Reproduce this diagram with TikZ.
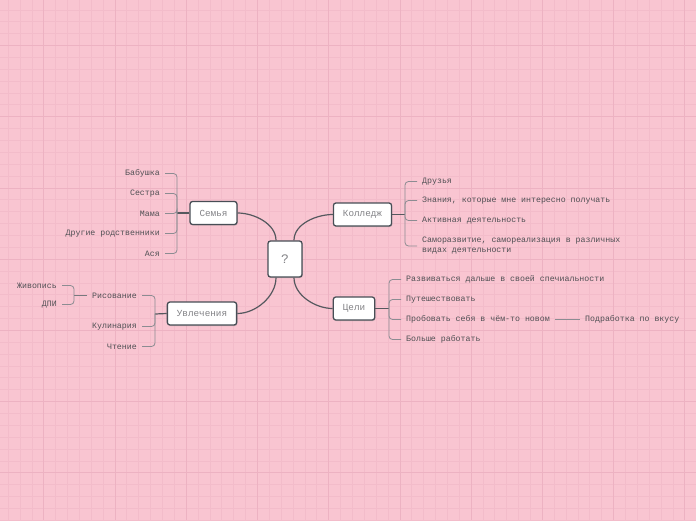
\documentclass[tikz,border=0pt]{standalone}
\usepackage{fontspec}
\setmainfont{Liberation Mono}
\usepackage{tikz}
\usetikzlibrary{positioning, shadows}
\usepackage{xcolor}
\definecolor{sheetpink}{RGB}{249, 197, 209}
\definecolor{gridminor}{RGB}{243, 188, 202}
\definecolor{gridmajor}{RGB}{237, 178, 194}
\definecolor{boxedge}{RGB}{72, 78, 86}
\definecolor{boxtext}{RGB}{130, 130, 134}
\definecolor{leaftext}{RGB}{80, 80, 84}
\definecolor{branchgray}{RGB}{85, 88, 94}
\definecolor{twiggray}{RGB}{140, 140, 146}

\tikzset{
    topicbox/.style={draw=boxedge, fill=white, rounded corners=2.5pt, line width=1.3pt,
        text=boxtext, font=\fontsize{9.3}{11}\selectfont, inner xsep=9.5pt,
        minimum height=23pt, drop shadow={shadow xshift=0.8pt, shadow yshift=-1pt, opacity=0.35}},
    rootbox/.style={topicbox, minimum width=34pt, minimum height=36pt, font=\fontsize{13}{15}\selectfont},
    leaf/.style={text=leaftext, font=\fontsize{8.25}{10}\selectfont, inner xsep=5pt, inner ysep=1pt},
    leafl/.style={leaf, anchor=east},
    leafr/.style={leaf, anchor=west},
    branch/.style={draw=branchgray, line width=1.2pt},
    twig/.style={draw=twiggray, line width=0.8pt, rounded corners=3.5pt}
}

\begin{document}
\begin{tikzpicture}[x=1pt, y=-1pt]
    % sheet and grid
    \useasboundingbox (0,0) rectangle (696,520);
    \fill[sheetpink] (0,0) rectangle (696,520);
    \foreach \i in {0,...,58} {\draw[gridminor, line width=1pt] ({floor(8.3+11.87*\i)+0.5},0) -- ++(0,520);}
    \foreach \i in {0,...,43} {\draw[gridminor, line width=1pt] (0,{floor(10+11.87*\i)+0.5}) -- ++(696,0);}
    \foreach \i in {0,...,9} {\draw[gridmajor, line width=1pt] ({floor(8.3+11.87*(3+6*\i))+0.5},0) -- ++(0,520);}
    \foreach \i in {0,...,6} {\draw[gridmajor, line width=1pt] (0,{floor(10+11.87*(3+6*\i))+0.5}) -- ++(696,0);}

    % topics
    \node[rootbox] (root) at (285,259) {?};
    \node[topicbox] (semja) at (213.5,213) {Семья};
    \node[topicbox] (uvlech) at (202,313.5) {Увлечения};
    \node[topicbox] (kolledzh) at (362.5,214.5) {Колледж};
    \node[topicbox] (celi) at (354,308.5) {Цели};

    \draw[branch] ([xshift=-9pt]root.north) to[out=90, in=0, looseness=0.9] (semja.east);
    \draw[branch] ([xshift=-9pt]root.south) to[out=-90, in=0, looseness=0.9] (uvlech.east);
    \draw[branch] ([xshift=9pt]root.north) to[out=90, in=180, looseness=0.9] (kolledzh.west);
    \draw[branch] ([xshift=9pt]root.south) to[out=-90, in=180, looseness=0.9] (celi.west);

    % family
    \coordinate (sj) at (177,213);
    \node[leafl] (babushka) at (165,173.5) {Бабушка};
    \node[leafl] (sestra) at (165,193.5) {Сестра};
    \node[leafl] (mama) at (165,213.5) {Мама};
    \node[leafl] (rodnye) at (165,233.5) {Другие родственники};
    \node[leafl] (asja) at (165,253.5) {Ася};
    \draw[branch] (semja.west) -- (sj);
    \foreach \n in {babushka, sestra, mama, rodnye, asja} {\draw[twig] (sj) |- (\n.east);}

    % hobbies
    \coordinate (uj) at (155,314);
    \node[leafl] (risovanie) at (142,295.5) {Рисование};
    \node[leafl] (kulinarija) at (142,326.5) {Кулинария};
    \node[leafl] (chtenie) at (142,346.5) {Чтение};
    \draw[branch] (uvlech.west) -- (uj);
    \foreach \n in {risovanie, kulinarija, chtenie} {\draw[twig] (uj) |- (\n.east);}
    \coordinate (rj) at (74,295.5);
    \node[leafl] (zhivopis) at (62,285.5) {Живопись};
    \node[leafl] (dpi) at (62,304.5) {ДПИ};
    \draw[twig, draw=branchgray!80] (risovanie.west) -- (rj);
    \foreach \n in {zhivopis, dpi} {\draw[twig] (rj) |- (\n.east);}

    % college
    \coordinate (kj) at (405,214.5);
    \node[leafr] (druzja) at (417,181.5) {Друзья};
    \node[leafr] (znanija) at (417,200.5) {Знания, которые мне интересно получать};
    \node[leafr] (aktivnaja) at (417,220.5) {Активная деятельность};
    \node[leafr, align=left] (samorazv) at (417,246) {Саморазвитие, самореализация в различных\\видах деятельности};
    \draw[branch] (kolledzh.east) -- (kj);
    \foreach \n in {druzja, znanija, aktivnaja, samorazv} {\draw[twig] (kj) |- (\n.west);}

    % goals
    \coordinate (cj) at (389,308.5);
    \node[leafr] (razvivatsja) at (401,279.5) {Развиваться дальше в своей спечиальности};
    \node[leafr] (puteshestv) at (401,299.5) {Путешествовать};
    \node[leafr] (probovat) at (401,319.5) {Пробовать себя в чём-то новом};
    \node[leafr] (rabotat) at (401,339.5) {Больше работать};
    \node[leafr] (podrabotka) at (580,319.5) {Подработка по вкусу};
    \draw[branch] (celi.east) -- (cj);
    \foreach \n in {razvivatsja, puteshestv, probovat, rabotat} {\draw[twig] (cj) |- (\n.west);}
    \draw[twig] (probovat.east) -- (podrabotka.west);
\end{tikzpicture}
\end{document}
